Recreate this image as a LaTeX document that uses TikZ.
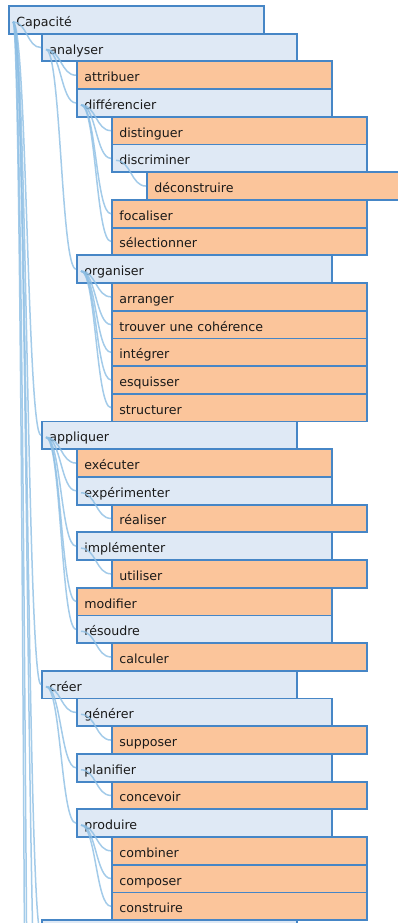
\documentclass[tikz,border=0pt]{standalone}
\usepackage{fontspec}
\setmainfont{DejaVu Sans}
\usepackage{tikz}
\usetikzlibrary{calc}

\definecolor{boxline}{RGB}{70,134,198}
\definecolor{branchfill}{RGB}{223,233,245}
\definecolor{leaffill}{RGB}{251,197,155}
\definecolor{linkblue}{RGB}{140,190,228}

\tikzset{
  cell/.style={rectangle, draw=boxline, line width=1.8pt, anchor=west,
    minimum height=27.7pt, inner ysep=0pt, inner xsep=7.5pt,
    text width=240pt, align=left, text height=14pt, text depth=1pt,
    font=\fontsize{12.6}{15}\selectfont, text=black!90},
  branch/.style={cell, fill=branchfill},
  leaf/.style={cell, fill=leaffill},
  link/.style={draw=linkblue, line width=1.5pt, opacity=0.8}
}

% link from a parent box to a child point
\newcommand\treelink[2]{%
  \draw[link] let \p1=([shift={(5pt,-2pt)}]#1.west), \p2=(#2) in
    (\p1) .. controls ({(\x1+\x2)/2},\y1) and ({(\x1+\x2)/2},\y2) .. (\p2);}

\begin{document}
\begin{tikzpicture}[x=1pt, y=-27.7pt]
\useasboundingbox (0,-0.2166) rectangle (398,33.105);
\clip (0,-0.2166) rectangle (398,33.105);

% rows
\node[branch] (capacite) at (8,0.5) {Capacité};
\node[branch] (analyser) at (41,1.5) {analyser};
\node[leaf] (attribuer) at (76,2.5) {attribuer};
\node[branch] (differencier) at (76,3.5) {différencier};
\node[leaf] (distinguer) at (111,4.5) {distinguer};
\node[branch] (discriminer) at (111,5.5) {discriminer};
\node[leaf] (deconstruire) at (146,6.5) {déconstruire};
\node[leaf] (focaliser) at (111,7.5) {focaliser};
\node[leaf] (selectionner) at (111,8.5) {sélectionner};
\node[branch] (organiser) at (76,9.5) {organiser};
\node[leaf] (arranger) at (111,10.5) {arranger};
\node[leaf] (coherence) at (111,11.5) {trouver une cohérence};
\node[leaf] (integrer) at (111,12.5) {intégrer};
\node[leaf] (esquisser) at (111,13.5) {esquisser};
\node[leaf] (structurer) at (111,14.5) {structurer};
\node[branch] (appliquer) at (41,15.5) {appliquer};
\node[leaf] (executer) at (76,16.5) {exécuter};
\node[branch] (experimenter) at (76,17.5) {expérimenter};
\node[leaf] (realiser) at (111,18.5) {réaliser};
\node[branch] (implementer) at (76,19.5) {implémenter};
\node[leaf] (utiliser) at (111,20.5) {utiliser};
\node[leaf] (modifier) at (76,21.5) {modifier};
\node[branch] (resoudre) at (76,22.5) {résoudre};
\node[leaf] (calculer) at (111,23.5) {calculer};
\node[branch] (creer) at (41,24.5) {créer};
\node[branch] (generer) at (76,25.5) {générer};
\node[leaf] (supposer) at (111,26.5) {supposer};
\node[branch] (planifier) at (76,27.5) {planifier};
\node[leaf] (concevoir) at (111,28.5) {concevoir};
\node[branch] (produire) at (76,29.5) {produire};
\node[leaf] (combiner) at (111,30.5) {combiner};
\node[leaf] (composer) at (111,31.5) {composer};
\node[leaf] (construire) at (111,32.5) {construire};
\node[branch] (suivant) at (41,33.5) {};

% ends below the page
\coordinate (suite-a) at (41,39.5);
\coordinate (suite-b) at (41,70.5);
\coordinate (suite-c) at (41,102.5);

% links
\treelink{capacite}{analyser.west}
\treelink{capacite}{appliquer.west}
\treelink{capacite}{creer.west}
\treelink{capacite}{suivant.west}
\treelink{capacite}{suite-a}
\treelink{capacite}{suite-b}
\treelink{capacite}{suite-c}
\treelink{analyser}{attribuer.west}
\treelink{analyser}{differencier.west}
\treelink{analyser}{organiser.west}
\treelink{differencier}{distinguer.west}
\treelink{differencier}{discriminer.west}
\treelink{differencier}{focaliser.west}
\treelink{differencier}{selectionner.west}
\treelink{discriminer}{deconstruire.west}
\treelink{organiser}{arranger.west}
\treelink{organiser}{coherence.west}
\treelink{organiser}{integrer.west}
\treelink{organiser}{esquisser.west}
\treelink{organiser}{structurer.west}
\treelink{appliquer}{executer.west}
\treelink{appliquer}{experimenter.west}
\treelink{appliquer}{implementer.west}
\treelink{appliquer}{modifier.west}
\treelink{appliquer}{resoudre.west}
\treelink{experimenter}{realiser.west}
\treelink{implementer}{utiliser.west}
\treelink{resoudre}{calculer.west}
\treelink{creer}{generer.west}
\treelink{creer}{planifier.west}
\treelink{creer}{produire.west}
\treelink{generer}{supposer.west}
\treelink{planifier}{concevoir.west}
\treelink{produire}{combiner.west}
\treelink{produire}{composer.west}
\treelink{produire}{construire.west}
\end{tikzpicture}
\end{document}
